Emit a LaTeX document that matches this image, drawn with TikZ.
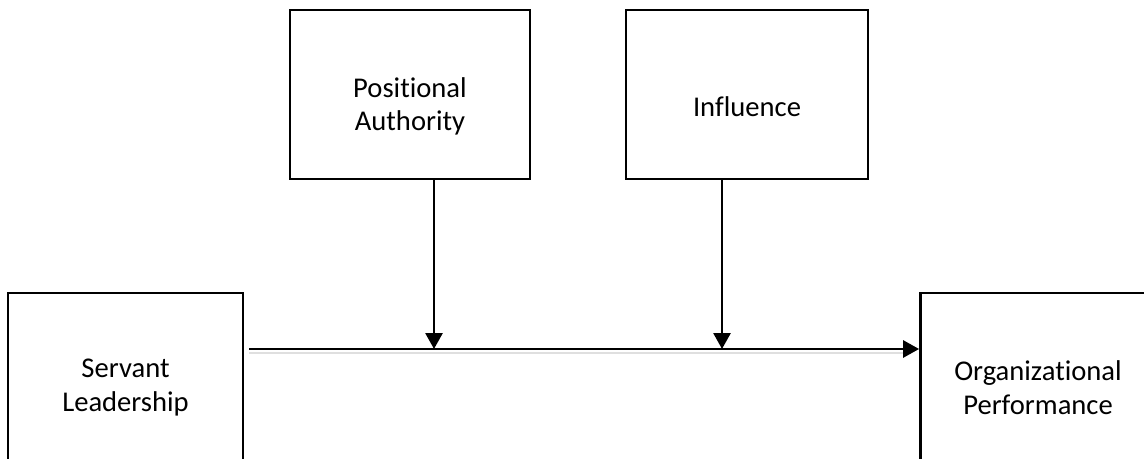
\documentclass[tikz,border=0pt]{standalone}
\usepackage{fontspec}
\setmainfont{Carlito}[Ligatures=NoCommon]
\usetikzlibrary{arrows.meta}
\tikzset{
	box/.style={draw, line width=1.4pt, minimum width=117.5pt, minimum height=84.5pt, inner sep=0pt},
	lbl/.style={align=center, font=\fontsize{14.3}{16.8}\selectfont},
	arr/.style={line width=1.4pt, -{Triangle[length=8pt,width=8.5pt]}}
}
\begin{document}
\begin{tikzpicture}[x=0.5pt, y=-0.5pt, line join=miter]
	\useasboundingbox (0,0) rectangle (1144,459);
	\clip (0,0) rectangle (1144,459);
	\node[box, minimum width=120pt] (pa) at (410,94.5) {};
	\node[box, minimum width=121pt] (in) at (747,94.5) {};
	\node[box] (sl) at (125.5,377.5) {};
	\node[box] (op) at (1038,377.5) {};
	\node[lbl] (patxt) at ([yshift=-6pt]pa.center) {Positional\\Authority};
	\node[lbl] (intxt) at ([yshift=-6pt]in.center) {Influence};
	\node[lbl] (sltxt) at ([yshift=-5pt]sl.center) {Servant\\Leadership};
	\node[lbl] (optxt) at ([yshift=-5pt]op.center) {Organizational\\Performance};
	\coordinate (S) at (249,349);
	\coordinate (J1) at (434,349);
	\coordinate (J2) at (722,349);
	\draw[gray!25, line width=1.2pt] ([yshift=-2pt]S) -- ([yshift=-2pt,xshift=-6pt]S -| op.west);
	\draw[arr] (S) -- (S -| op.west);
	\foreach \hop/\diem in {pa/J1, in/J2} \draw[arr] (\hop.south -| \diem) -- (\diem);
\end{tikzpicture}
\end{document}
